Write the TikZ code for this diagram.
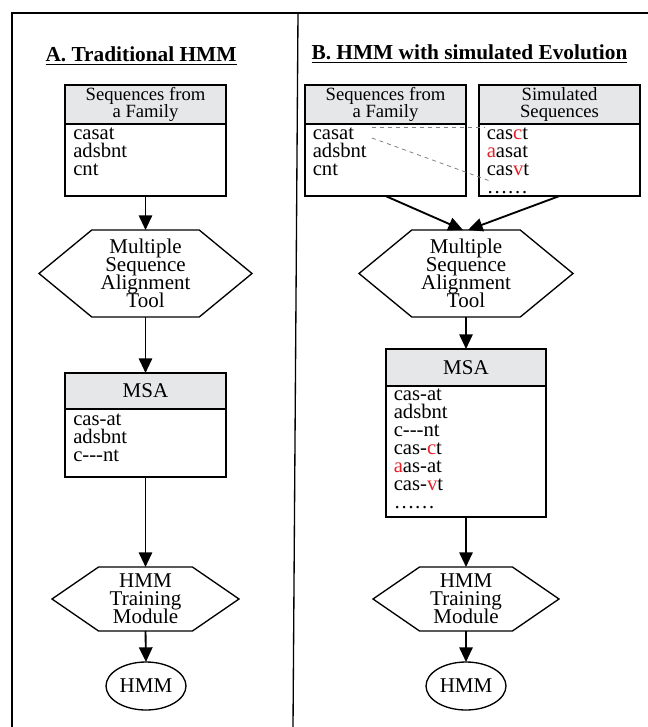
\documentclass[tikz,border=0pt]{standalone}
\usepackage{fontspec}
\setmainfont{Liberation Serif}
\usetikzlibrary{positioning,arrows.meta,shapes.geometric,shapes.symbols,calc}
\definecolor{hdrgray}{RGB}{230,231,232}
\definecolor{mutred}{RGB}{232,32,42}
\newcommand\fsz[2]{\fontsize{#1}{#2}\selectfont\lineskiplimit=-20pt\relax}
\newcommand\mut[1]{\textcolor{mutred}{#1}}
\newcommand\seqlist[1]{\vtop{\let\\\cr\halign{##\hfil\cr#1\crcr}}}
\tikzset{
  hdr/.style={draw, line width=1.3pt, fill=hdrgray, minimum width=120.75pt, minimum height=29.25pt,
    inner sep=0pt, outer sep=0pt, align=center, font=\fsz{14}{12.75}},
  seqbox/.style={draw, line width=1.3pt, minimum width=120.75pt, inner sep=0pt, outer sep=0pt},
  seqtxt/.style={anchor=base west, inner sep=0pt, font=\fsz{15.5}{13.5}},
  tool/.style={signal, signal to=west and east, draw, line width=1pt, inner sep=0pt, outer sep=0pt,
    align=center, font=\fsz{15.75}{13.5}},
  result/.style={ellipse, draw, line width=1pt, minimum width=60pt, minimum height=36pt,
    inner sep=0pt, outer sep=0pt, font=\fsz{15.75}{13.5}},
  flow/.style={-{Triangle[length=11pt,width=10pt]}, line width=1.4pt},
  paneltitle/.style={font=\fsz{16}{18}\bfseries, anchor=base, inner sep=0pt}
}
\begin{document}
\begin{tikzpicture}[x=0.75pt,y=-0.75pt]
\useasboundingbox (0,0) rectangle (648,727);
% frame and divider
\draw[line width=1.6pt] (12,727) -- (12,13) -- (648,13);
\draw[line width=1pt] (298,13) -- (293,727);
% A. Traditional HMM
\node[paneltitle] (titleA) at (141,62) {\underline{A. Traditional HMM}};
\node[hdr] (famAh) at (145.5,104.5) {Sequences from\\a Family};
\node[seqbox, minimum height=54pt, below=0pt of famAh] (famA) {};
\node[seqtxt] (famAtxt) at ($(famA.north west)+(8,15.5)$) {\seqlist{casat\\adsbnt\\cnt}};
\node[tool, minimum width=159.75pt, minimum height=65.25pt, signal pointer angle=79] (mtoolA) at (145.5,273.5)
  {Multiple\\Sequence\\Alignment\\Tool};
\node[hdr, minimum height=27pt, font=\fsz{15.75}{13.5}] (msaAh) at (145.5,391) {MSA};
\node[seqbox, minimum height=51pt, below=0pt of msaAh] (msaA) {};
\node[seqtxt] (msaAtxt) at ($(msaA.north west)+(8,16)$) {\seqlist{cas-at\\adsbnt\\c-{}-{}-nt}};
\node[tool, minimum width=140.25pt, minimum height=48pt, signal pointer angle=69] (trainA) at (145.5,599)
  {HMM\\Training\\Module};
\node[result] (hmmA) at (146,686) {HMM};
\draw[flow] (famA.south) -- (mtoolA.north);
\draw[flow] (mtoolA.south) -- (msaAh.north);
\draw[flow] (msaA.south) -- (trainA.north);
\draw[flow] (trainA.south) -- (hmmA.north);
% B. HMM with simulated Evolution
\node[paneltitle] (titleB) at (469.5,60) {\underline{B. HMM with simulated Evolution}};
\node[hdr] (famBh) at (385.5,104.5) {Sequences from\\a Family};
\node[seqbox, minimum height=54pt, below=0pt of famBh] (famB) {};
\node[seqtxt] (famBtxt) at ($(famB.north west)+(7.5,15.5)$) {\seqlist{casat\\adsbnt\\cnt}};
\node[hdr] (simBh) at (559.5,104.5) {Simulated\\Sequences};
\node[seqbox, minimum height=54pt, below=0pt of simBh] (simB) {};
\node[seqtxt] (simBtxt) at ($(simB.north west)+(7.5,15.5)$)
  {\seqlist{cas\mut{c}t\\\mut{a}asat\\cas\mut{v}t\\\ldots\ldots}};
\coordinate (casatE) at (372,127);
\coordinate (casctW) at (485,127);
\coordinate (casatE2) at (372,138);
\coordinate (dotsW) at (490,181);
\draw[gray, dashed, line width=0.6pt] (casatE) -- (casctW);
\draw[gray, dashed, line width=0.6pt] (casatE2) -- (dotsW);
\node[tool, minimum width=160.5pt, minimum height=65.25pt, signal pointer angle=79] (mtoolB) at (466,273.5)
  {Multiple\\Sequence\\Alignment\\Tool};
\node[hdr, minimum width=120pt, minimum height=27.75pt, font=\fsz{15.75}{13.5}] (msaBh) at (466,367.5) {MSA};
\node[seqbox, minimum width=120pt, minimum height=98.25pt, below=0pt of msaBh] (msaB) {};
\node[seqtxt] (msaBtxt) at ($(msaB.north west)+(7.5,14.5)$)
  {\seqlist{cas-at\\adsbnt\\c-{}-{}-nt\\cas-\mut{c}t\\\mut{a}as-at\\cas-\mut{v}t\\\ldots\ldots}};
\node[tool, minimum width=139.5pt, minimum height=48pt, signal pointer angle=69] (trainB) at (466,599)
  {HMM\\Training\\Module};
\node[result] (hmmB) at (466,686) {HMM};
\draw[flow] (famB.south) -- ([xshift=-2.25pt]mtoolB.north);
\draw[flow] (simB.south) -- ([xshift=1.5pt]mtoolB.north);
\draw[flow] (mtoolB.south) -- (msaBh.north);
\draw[flow] (msaB.south) -- (trainB.north);
\draw[flow] (trainB.south) -- (hmmB.north);
\end{tikzpicture}
\end{document}
